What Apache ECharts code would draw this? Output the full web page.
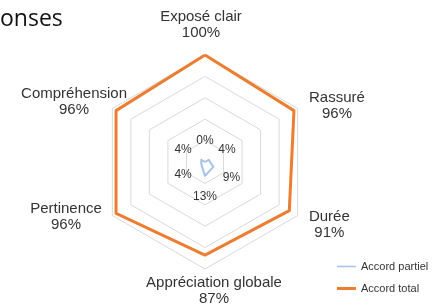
<!DOCTYPE html>
<html><head><meta charset="utf-8">
<script src="https://cdn.jsdelivr.net/npm/echarts@6/dist/echarts.min.js"></script>
<style>html,body{margin:0;padding:0;background:#fff}#c{width:438px;height:307px}</style>
</head><body><div id="c"></div>
<script>
// ---- data ----
const titleText = 'onses';
const categories = ['Exposé clair', 'Compréhension', 'Pertinence', 'Appréciation globale', 'Durée', 'Rassuré'];
const totalValues = [100, 96, 96, 87, 91, 96];
const partialValues = [0, 4, 4, 13, 9, 4];
const seriesNames = ['Accord partiel', 'Accord total'];
const axisMax = 100;

// ---- layout / style ----
const CX = 205, CY = 162, R = 107;
const FONT = '"Liberation Sans", Arial, sans-serif';
const ORANGE = '#ED7D31', BLUE = '#A4C2EA';
// label block centre offsets from each vertex of the "total" series
const totalLabelOffset = [[-4, -30], [-42, -9], [-50, 3], [9, 36], [40, 14], [43, -5]];
const partialLabelGap = 21;

function dirOf(i) {
  const a = i * Math.PI * 2 / categories.length;
  return [-Math.sin(a), -Math.cos(a)];
}
function idxFromText(text, prefix) {
  const m = new RegExp('\\{' + prefix + '(\\d+)\\|').exec(text || '');
  return m ? +m[1] : 0;
}

const richTotal = {}, richPartial = {};
categories.forEach((c, i) => {
  richTotal['t' + i] = { align: 'center', fontSize: 15, lineHeight: 16, color: '#333', fontFamily: FONT };
  richPartial['p' + i] = { fontSize: 12, lineHeight: 14, color: '#333', fontFamily: FONT };
});

const chart = echarts.init(document.getElementById('c'), null, { renderer: 'canvas' });
chart.setOption({
  animation: false,
  backgroundColor: '#fff',
  title: {
    text: titleText, left: -5, top: 3,
    textStyle: { fontFamily: '"Open Sans", sans-serif', fontSize: 23, fontWeight: 'normal', color: '#111' }
  },
  legend: {
    orient: 'vertical', left: 337, top: 261, itemWidth: 19, itemHeight: 8, itemGap: 11, padding: 0,
    selectedMode: false,
    itemStyle: { borderWidth: 0 },
    textStyle: { fontFamily: FONT, fontSize: 11, color: '#333' },
    data: [
      { name: seriesNames[0], icon: 'path://M0,0M19,8M0,3.25H19V4.75H0Z' },
      { name: seriesNames[1], icon: 'path://M0,0M19,8M0,2.5H19V5.5H0Z' }
    ]
  },
  radar: {
    center: [CX, CY], radius: R, startAngle: 90, splitNumber: 5, shape: 'polygon',
    indicator: categories.map(n => ({ name: n, min: 0, max: axisMax })),
    axisName: { show: false },
    axisLine: { show: false },
    axisTick: { show: false },
    axisLabel: { show: false },
    splitLine: { lineStyle: { color: '#d9d9d9', width: 1 } },
    splitArea: { show: false }
  },
  series: [
    {
      name: seriesNames[0], type: 'radar', symbol: 'circle', symbolSize: 0.5,
      itemStyle: { color: BLUE },
      lineStyle: { color: BLUE, width: 2 },
      emphasis: { disabled: true },
      label: {
        show: true, position: 'inside', color: '#333',
        formatter: p => '{p' + p.dimensionIndex + '|' + p.value + '%}',
        rich: richPartial
      },
      labelLayout: function (p) {
        const i = idxFromText(p.text, 'p');
        const d = dirOf(i);
        const x = p.rect.x + p.rect.width / 2, y = p.rect.y + p.rect.height / 2;
        return { x: x + d[0] * partialLabelGap, y: y + d[1] * partialLabelGap, align: 'center', verticalAlign: 'middle' };
      },
      data: [{ name: seriesNames[0], value: partialValues }]
    },
    {
      name: seriesNames[1], type: 'radar', symbol: 'circle', symbolSize: 0.5,
      itemStyle: { color: ORANGE },
      lineStyle: { color: ORANGE, width: 3 },
      emphasis: { disabled: true },
      label: {
        show: true, position: 'inside', color: '#333', align: 'center',
        formatter: p => '{t' + p.dimensionIndex + '|' + categories[p.dimensionIndex] + '}\n{t' + p.dimensionIndex + '|' + p.value + '%}',
        rich: richTotal
      },
      labelLayout: function (p) {
        const i = idxFromText(p.text, 't');
        const o = totalLabelOffset[i];
        const x = p.rect.x + p.rect.width / 2, y = p.rect.y + p.rect.height / 2;
        return { x: x + o[0], y: y + o[1], align: 'center', verticalAlign: 'middle' };
      },
      data: [{ name: seriesNames[1], value: totalValues }]
    }
  ]
});
</script>
</body></html>
